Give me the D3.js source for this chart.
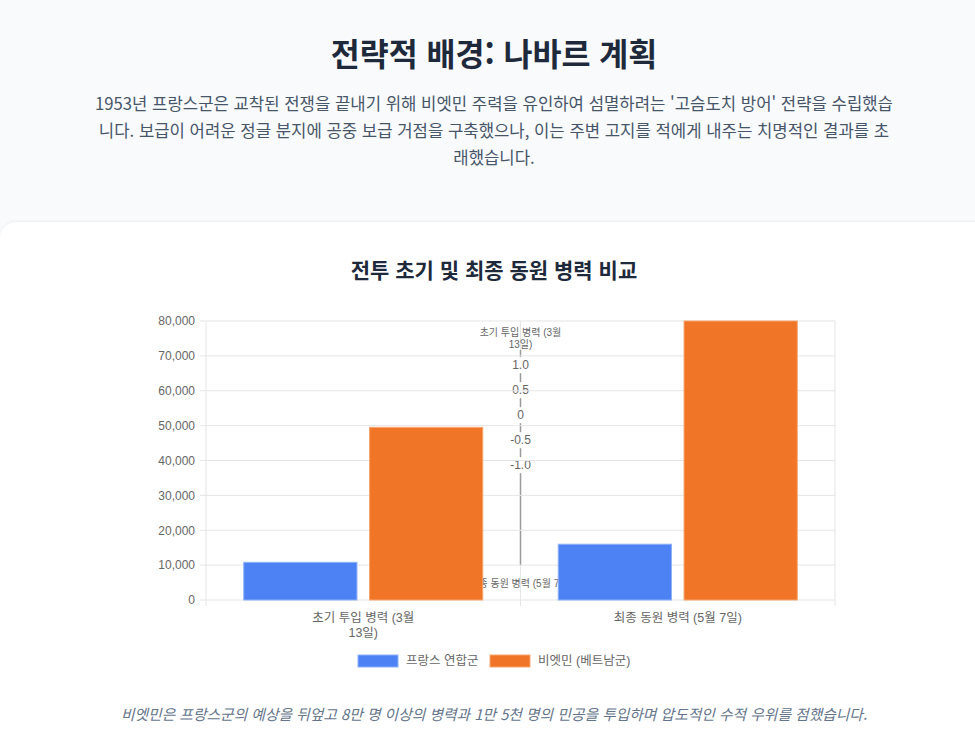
<!DOCTYPE html>
<html lang="ko">
<head>
<meta charset="utf-8">
<script src="https://cdn.jsdelivr.net/npm/d3@7"></script>
<style>
  html, body { margin: 0; padding: 0; }
  body {
    width: 975px; height: 744px; overflow: hidden; position: relative;
    background: #f8fafc;
    font-family: "Noto Sans CJK KR", "Noto Sans", sans-serif;
  }
  .head-title {
    position: absolute; left: 0; width: 988px; top: 30px; margin: 0;
    text-align: center; font-size: 31.5px; font-weight: 700; color: #1e293b;
    line-height: 44px;
  }
  .head-text {
    position: absolute; left: 0; width: 988px; top: 90px; margin: 0;
    text-align: center; font-size: 16.7px; color: #475569; line-height: 27px;
  }
  .head-text span { display: block; white-space: nowrap; }
  .card {
    position: absolute; left: 0; top: 222px; width: 990px; height: 560px;
    background: #fff; border-radius: 16px;
    box-shadow: 0 -1px 3px rgba(15, 23, 42, 0.05);
  }
  .note {
    position: absolute; left: 0; width: 988px; top: 703px; margin: 0;
    text-align: center; font-size: 14.75px; font-style: italic; color: #64748b;
    line-height: 22px;
  }
  #chart { position: absolute; left: 0; top: 0; }
</style>
</head>
<body>
<h1 class="head-title">전략적 배경: 나바르 계획</h1>
<p class="head-text">
  <span>1953년 프랑스군은 교착된 전쟁을 끝내기 위해 비엣민 주력을 유인하여 섬멸하려는 '고슴도치 방어' 전략을 수립했습</span>
  <span>니다. 보급이 어려운 정글 분지에 공중 보급 거점을 구축했으나, 이는 주변 고지를 적에게 내주는 치명적인 결과를 초</span>
  <span>래했습니다.</span>
</p>
<div class="card"></div>
<p class="note">비엣민은 프랑스군의 예상을 뒤엎고 8만 명 이상의 병력과 1만 5천 명의 민공을 투입하며 압도적인 수적 우위를 점했습니다.</p>
<svg id="chart" width="975" height="744"></svg>
<script>
// data
const categories = ["초기 투입 병력 (3월 13일)", "최종 동원 병력 (5월 7일)"];
const seriesNames = ["프랑스 연합군", "비엣민 (베트남군)"];
const frenchForces = [10800, 16000];
const vietMinhForces = [49500, 80000];
const yTicks = [0, 10000, 20000, 30000, 40000, 50000, 60000, 70000, 80000];
const radarTicks = [1.0, 0.5, 0, -0.5, -1.0];

const seriesColors = ["#4c82f4", "#f07526"];
const seriesEdges = ["#8fb0f8", "#f6a56f"];
const tickFont = '"Liberation Sans", "Noto Sans CJK KR", sans-serif';

const plotLeft = 206, plotRight = 835, plotTop = 321, plotBottom = 600;

// wrap labels of more than 16 chars by words
function wrapLabel(str, max) {
  let lines = [], cur = "";
  str.split(" ").forEach(w => {
    if (cur.length && (cur + " " + w).length > max) { lines.push(cur); cur = w; }
    else cur = cur.length ? cur + " " + w : w;
  });
  if (cur.length) lines.push(cur);
  return lines;
}

var svg = d3.select("#chart");

var x = d3.scaleBand().domain(categories).range([plotLeft, plotRight]);
var xInner = d3.scaleBand().domain(seriesNames)
  .range([x.bandwidth() * 0.1, x.bandwidth() * 0.9])
  .paddingInner(0.1).paddingOuter(0.05);
var y = d3.scaleLinear().domain([0, 80000]).range([plotBottom, plotTop]);

// chart title
svg.append("text")
  .attr("x", 494).attr("y", 271).attr("dy", "0.35em")
  .attr("text-anchor", "middle")
  .style("font-family", '"Noto Sans CJK KR", sans-serif')
  .style("font-size", "21px").style("font-weight", 700)
  .style("fill", "#1e293b")
  .text("전투 초기 및 최종 동원 병력 비교");

// vertical grid (category edges)
var grid = svg.append("g").attr("class", "grid");
var xEdges = categories.map(c => x(c)).concat([plotRight]);
grid.selectAll("line.vx").data(xEdges).enter().append("line")
  .attr("x1", d => d).attr("x2", d => d)
  .attr("y1", plotTop).attr("y2", plotBottom + 6)
  .attr("stroke", "#e5e5e5").attr("stroke-width", 1);

// stray radial scale drawn in the middle of the plot
var cx = (plotLeft + plotRight) / 2;
var r = d3.scaleLinear().domain([-1, 1]).range([465, 365]);
var radar = svg.append("g").attr("class", "radar");

radar.append("line")
  .attr("x1", cx).attr("x2", cx).attr("y1", 350).attr("y2", 565)
  .attr("stroke", "#9a9a9a").attr("stroke-width", 1.5);

var rt = radar.selectAll("g.rtick").data(radarTicks).enter()
  .append("g").attr("class", "rtick")
  .attr("transform", d => "translate(" + cx + "," + r(d) + ")");
rt.append("text")
  .attr("text-anchor", "middle").attr("dy", "0.35em")
  .style("font-family", tickFont).style("font-size", "12px")
  .style("fill", "#666")
  .text(d => d === 0 ? "0" : d3.format(".1f")(d).replace("−", "-"));
rt.each(function () {
  var g = d3.select(this), bb = g.select("text").node().getBBox();
  g.insert("rect", "text")
    .attr("x", bb.x - 2).attr("y", bb.y - 1)
    .attr("width", bb.width + 4).attr("height", bb.height + 2)
    .attr("fill", "#fff");
});

var topLabel = radar.append("text")
  .attr("text-anchor", "middle")
  .style("font-family", tickFont).style("font-size", "10px").style("fill", "#666");
wrapLabel(categories[0], 16).forEach((l, i) => {
  topLabel.append("tspan").attr("x", cx).attr("y", 332 + i * 12).attr("dy", "0.35em").text(l);
});
radar.append("text")
  .attr("x", cx).attr("y", 583).attr("dy", "0.35em")
  .attr("text-anchor", "middle")
  .style("font-family", tickFont).style("font-size", "10px").style("fill", "#666")
  .text(categories[1]);

// horizontal grid
grid = svg.append("g").attr("class", "grid");
grid.selectAll("line.hy").data(yTicks).enter().append("line")
  .attr("x1", plotLeft - 6).attr("x2", plotRight)
  .attr("y1", d => y(d)).attr("y2", d => y(d))
  .attr("stroke", "#e5e5e5").attr("stroke-width", 1);

// bars
var series = [frenchForces, vietMinhForces];
var groups = svg.selectAll("g.cat").data(categories).enter()
  .append("g").attr("class", "cat")
  .attr("transform", d => "translate(" + x(d) + ",0)");
groups.selectAll("rect")
  .data((d, i) => series.map((s, k) => ({ name: seriesNames[k], value: s[i], k: k })))
  .enter().append("rect")
  .attr("x", d => xInner(d.name))
  .attr("width", xInner.bandwidth())
  .attr("y", d => y(d.value))
  .attr("height", d => y(0) - y(d.value))
  .attr("fill", d => seriesColors[d.k])
  .attr("stroke", d => seriesEdges[d.k]).attr("stroke-width", 1);

// y axis
var yAxis = d3.axisLeft(y).tickValues(yTicks).tickSize(0).tickPadding(11)
  .tickFormat(d3.format(","));
var ya = svg.append("g").attr("transform", "translate(" + plotLeft + ",0)").call(yAxis);
ya.select(".domain").remove();
ya.selectAll("text").style("font-family", tickFont).style("font-size", "12px").style("fill", "#666");

// x axis labels
var xl = svg.selectAll("text.xlab").data(categories).enter().append("text")
  .attr("class", "xlab").attr("text-anchor", "middle")
  .style("font-family", tickFont).style("font-size", "12.5px").style("fill", "#666");
xl.each(function (d) {
  var t = d3.select(this);
  wrapLabel(d, 16).forEach((l, i) => {
    t.append("tspan").attr("x", x(d) + x.bandwidth() / 2)
      .attr("y", 618 + i * 15).attr("dy", "0.35em").text(l);
  });
});

// legend
var legendX = [358, 490];
var lg = svg.selectAll("g.legend").data(seriesNames).enter()
  .append("g").attr("class", "legend")
  .attr("transform", (d, i) => "translate(" + legendX[i] + ",655)");
lg.append("rect").attr("width", 40).attr("height", 12)
  .attr("fill", (d, i) => seriesColors[i])
  .attr("stroke", (d, i) => seriesEdges[i]).attr("stroke-width", 1);
lg.append("text").attr("x", 48).attr("y", 6).attr("dy", "0.35em")
  .style("font-family", tickFont).style("font-size", "12.5px").style("fill", "#666")
  .text(d => d);
</script>
</body>
</html>
